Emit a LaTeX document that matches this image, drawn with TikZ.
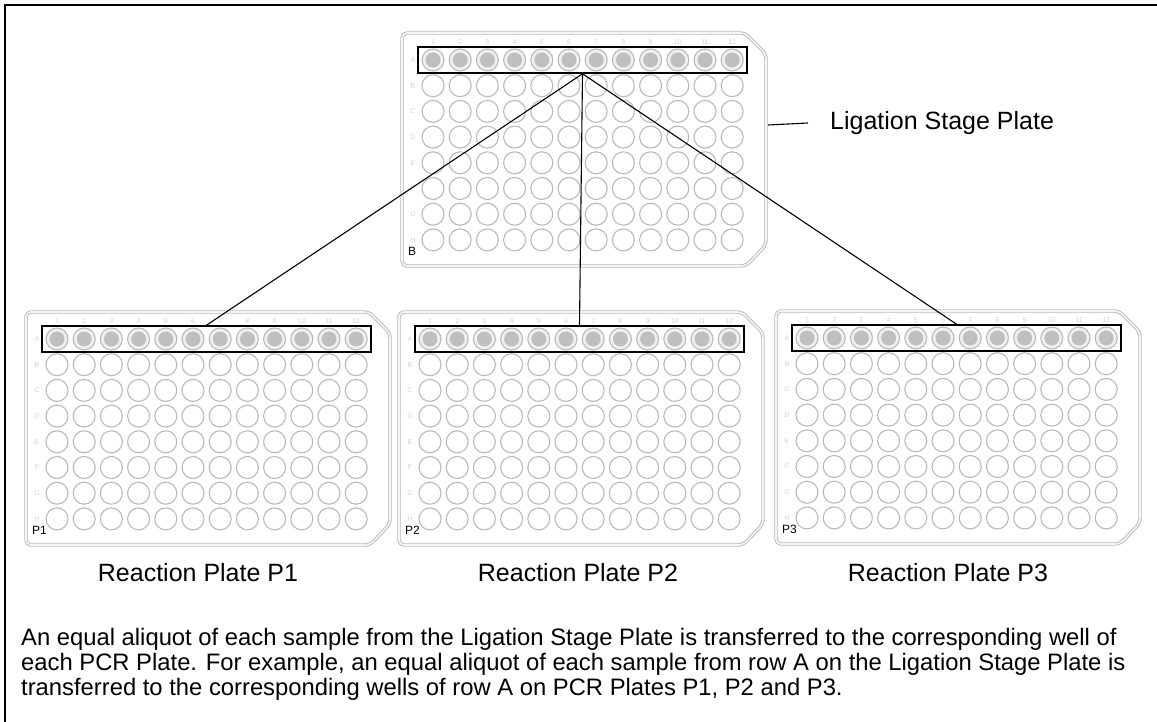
\documentclass[tikz,border=0pt]{standalone}
\usepackage{fontspec}
\setmainfont{Liberation Sans}
\usetikzlibrary{positioning}

% one plate of 96 wells: #1 name, #2 left, #3 top, #4 corner label
\newcommand{\wellplate}[4]{%
\begin{scope}[shift={(#2,#3)}]
% The outline
\draw[plate edge] (0,0) -- (343,0) -- (364,21) -- (364,212) -- (344,233) -- (0,233) -- cycle;
% The wells
\foreach \c in {1,...,12} {
  \node[colnum] at ({3.8+27.2*\c},9) {\c};
  \draw[well full] ({3.8+27.2*\c},27) circle (11pt);
  \fill[well core] ({3.8+27.2*\c},27) circle (7.5pt);
  \foreach \r in {1,...,7} \draw[well] ({3.8+27.2*\c},{27+25.7*\r}) circle (11pt);
}
\foreach \l [count=\r from 0] in {A,B,C,D,E,F,G,H} \node[rowname] at (11,{27+25.7*\r}) {\l};
\node[platename,anchor=west] at (6,218) {#4};
\node[rowbox] (#1) at (180.5,27) {};
\coordinate (#1e) at (366,92);
\end{scope}}

\begin{document}
\begin{tikzpicture}[x=1pt,y=-1pt,
plate edge/.style={draw=gray!55, double=gray!8, double distance=1.6pt, line width=0.9pt, rounded corners=5pt},
well/.style={draw=gray!55, line width=1.1pt},
well full/.style={draw=gray!55, line width=1.1pt, fill=gray!12},
well core/.style={fill=gray!50},
colnum/.style={text=gray!35, font=\fontsize{7}{7}\selectfont, inner sep=0},
rowname/.style={text=gray!35, font=\fontsize{7}{7}\selectfont, inner sep=0},
platename/.style={font=\fontsize{12}{12}\selectfont, inner sep=0},
rowbox/.style={draw, line width=1.6pt, minimum width=329pt, minimum height=26pt, inner sep=0},
link/.style={line width=1.1pt},
caption/.style={font=\fontsize{25}{28}\selectfont, inner sep=0}
]
\useasboundingbox (0,0) rectangle (1157,722);

% The frame
\draw[line width=2pt] (5,722) -- (5,5) -- (1157,5);

% The plates
\wellplate{lsp}{402}{33}{B}
\wellplate{pa}{26}{312}{P1}
\wellplate{pb}{399}{312}{P2}
\wellplate{pc}{776}{311}{P3}

% The transfers
\draw[link] (lsp.south) -- (pa.north);
\draw[link] (lsp.south) -- (pb.north);
\draw[link] (lsp.south) -- (pc.north);

% The labels
\node[caption,anchor=west] (lsplabel) at (830,123) {Ligation Stage Plate};
\draw[link] (lspe) -- (lsplabel.west -| 808,0);
\node[caption] (palabel) at (198,573) {Reaction Plate P1};
\node[caption] (pblabel) at (578,573) {Reaction Plate P2};
\node[caption] (pclabel) at (948,573) {Reaction Plate P3};

% The note
\node[anchor=north west, inner sep=0, align=left, font=\fontsize{23.8}{25}\selectfont] (note) at (21,628)
{An equal aliquot of each sample from the Ligation Stage Plate is transferred to the corresponding well of\\
each PCR Plate. For example, an equal aliquot of each sample from row A on the Ligation Stage Plate is\\
transferred to the corresponding wells of row A on PCR Plates P1, P2 and P3.};
\end{tikzpicture}
\end{document}
